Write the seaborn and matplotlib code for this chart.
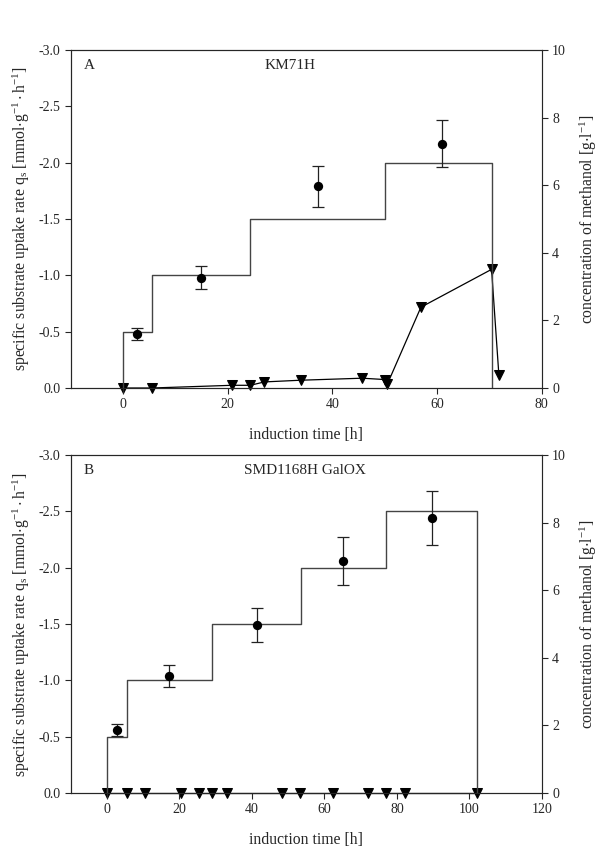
import numpy as np
import pandas as pd
import matplotlib
matplotlib.use("Agg")
import matplotlib.pyplot as plt
import seaborn as sns

# ---------------- data ----------------
# Panel A (KM71H)
a_step_edges = [0, 5.5, 24.3, 50.1, 70.4]
a_step_levels = [-0.5, -1.0, -1.5, -2.0]
a_qs_time = [2.7, 14.9, 37.2, 60.9]
a_qs = [-0.48, -0.98, -1.79, -2.17]
a_qs_err = [0.05, 0.10, 0.18, 0.21]
a_meoh_time = [0, 5.5, 20.8, 24.3, 27.0, 33.9, 45.7, 50.0, 50.5, 56.9, 70.4, 71.8]
a_meoh = [0.0, 0.0, 0.08, 0.08, 0.18, 0.23, 0.29, 0.25, 0.12, 2.39, 3.51, 0.38]

# Panel B (SMD1168H GalOX)
b_step_edges = [0, 5.6, 29.1, 53.4, 77.1, 102.0]
b_step_levels = [-0.5, -1.0, -1.5, -2.0, -2.5]
b_qs_time = [2.8, 17.2, 41.3, 65.0, 89.6]
b_qs = [-0.56, -1.04, -1.49, -2.06, -2.44]
b_qs_err = [0.055, 0.10, 0.15, 0.21, 0.24]
b_meoh_time = [0, 5.6, 10.5, 20.3, 25.4, 29.1, 33.2, 48.2, 53.2, 62.4, 72.1, 77.1, 82.3, 102.0]
b_meoh = [0.0] * 14

left_ticks = [-3.0, -2.5, -2.0, -1.5, -1.0, -0.5, 0.0]
right_ticks = [0, 2, 4, 6, 8, 10]
a_xticks = [0, 20, 40, 60, 80]
b_xticks = [0, 20, 40, 60, 80, 100, 120]

# ---------------- style ----------------
sns.set_style("ticks")
plt.rcParams['font.family'] = ['Liberation Serif', 'DejaVu Serif']
plt.rcParams['mathtext.fontset'] = 'custom'
plt.rcParams['mathtext.rm'] = 'Liberation Serif'
plt.rcParams['mathtext.it'] = 'Liberation Serif:italic'
plt.rcParams['mathtext.default'] = 'regular'
plt.rcParams['axes.unicode_minus'] = False
plt.rcParams['axes.linewidth'] = 0.8
plt.rcParams['xtick.major.size'] = 4
plt.rcParams['ytick.major.size'] = 4
plt.rcParams['xtick.major.width'] = 0.8
plt.rcParams['ytick.major.width'] = 0.8
plt.rcParams['xtick.direction'] = 'out'
plt.rcParams['ytick.direction'] = 'out'

fig = plt.figure(figsize=(6.0, 8.52), dpi=100)

STEP_COLOR = '#444444'
FS_LABEL = 11.3
FS_TITLE = 11
FS_TICK = 10


def step_frame(edges, levels):
    xs = [edges[0]]
    ys = [0.0]
    for i, lv in enumerate(levels):
        xs += [edges[i], edges[i + 1]]
        ys += [lv, lv]
    xs.append(edges[-1])
    ys.append(0.0)
    return pd.DataFrame({'t': xs, 'q': ys})


def panel(rect, edges, levels, qt, qv, qe, mt, mv, xlim, xticks, letter, title, title_x):
    ax = fig.add_axes(rect)
    sdf = step_frame(edges, levels)
    sns.lineplot(data=sdf, x='t', y='q', ax=ax, sort=False, estimator=None,
                 color=STEP_COLOR, linewidth=1.0)
    ax.errorbar(qt, qv, yerr=qe, fmt='none', ecolor='#222222', elinewidth=0.9,
                capsize=4, capthick=0.9, zorder=3)
    qdf = pd.DataFrame({'t': qt, 'q': qv})
    sns.scatterplot(data=qdf, x='t', y='q', ax=ax, color='black', s=45,
                    edgecolor='black', linewidth=0, zorder=4)
    ax.set_xlim(*xlim)
    ax.set_ylim(0, -3)
    ax.set_xticks(xticks)
    ax.set_yticks(left_ticks)
    ax.set_yticklabels([f"{v:.1f}" for v in left_ticks])
    ax.tick_params(labelsize=FS_TICK)
    ax.set_xlabel('induction time [h]', fontsize=FS_LABEL, labelpad=11)
    ax.set_ylabel(r'specific substrate uptake rate q$_s$ [mmol$\cdot$g$^{-1}\cdot$h$^{-1}$]',
                  fontsize=FS_LABEL, labelpad=5)
    ax.text(0.028, 0.955, letter, transform=ax.transAxes, fontsize=FS_TITLE,
            ha='left', va='center')
    ax.text(title_x, 0.955, title, transform=ax.transAxes, fontsize=FS_TITLE,
            ha='center', va='center')

    ax2 = ax.twinx()
    mdf = pd.DataFrame({'t': mt, 'm': mv})
    sns.lineplot(data=mdf, x='t', y='m', ax=ax2, sort=False, estimator=None,
                 color='black', linewidth=0.9, marker='v', markersize=7.5,
                 markeredgecolor='black', markerfacecolor='black', clip_on=False)
    ax2.set_ylim(0, 10)
    ax2.set_yticks(right_ticks)
    ax2.set_yticklabels([str(v) for v in right_ticks])
    ax2.tick_params(labelsize=FS_TICK)
    ax2.set_ylabel(r'concentration of methanol [g$\cdot$l$^{-1}$]', fontsize=FS_LABEL,
                   labelpad=8)
    ax2.spines['right'].set_color('#777777')
    for s in ['left', 'bottom', 'top', 'right']:
        ax2.spines[s].set_linewidth(0.8)
    ax.set_zorder(ax2.get_zorder() + 1)
    ax.patch.set_visible(False)
    return ax, ax2


panel([0.118, 0.5446, 0.785, 0.3967], a_step_edges, a_step_levels, a_qs_time, a_qs,
      a_qs_err, a_meoh_time, a_meoh, (-10, 80), a_xticks, 'A', 'KM71H', 0.466)
panel([0.118, 0.0692, 0.785, 0.3967], b_step_edges, b_step_levels, b_qs_time, b_qs,
      b_qs_err, b_meoh_time, b_meoh, (-10, 120), b_xticks, 'B', 'SMD1168H GalOX', 0.497)

fig.savefig('out.png', dpi=100)
